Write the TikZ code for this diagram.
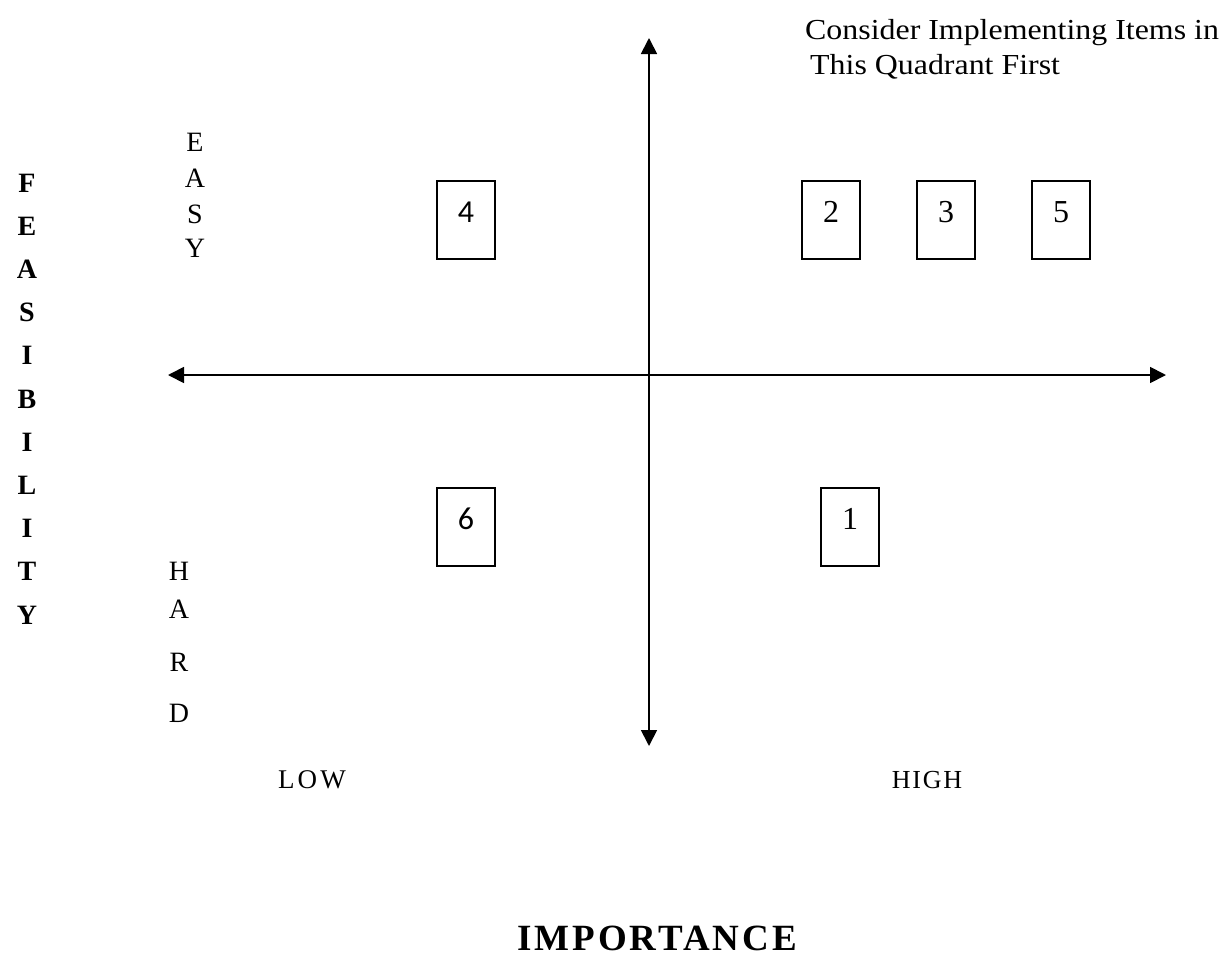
\documentclass[tikz,border=0pt]{standalone}
\usepackage{fontspec}
\setmainfont{Liberation Serif}
\newfontfamily\sansnum{Carlito}
\newfontfamily\notefont{Liberation Serif}[FakeStretch=1.1]
\usetikzlibrary{arrows.meta}
\tikzset{
  axis/.style={line width=1.8pt, {Triangle[length=16pt,width=16pt]}-{Triangle[length=16pt,width=16pt]}},
  itembox/.style={draw, line width=1.6pt, minimum width=58pt, minimum height=78pt, inner sep=0pt,
                  text height=22pt, text depth=18pt, font=\fontsize{32}{36}\selectfont},
  letter/.style={inner sep=0pt, font=\fontsize{28}{32}\selectfont},
  bletter/.style={inner sep=0pt, font=\fontsize{28}{32}\selectfont\bfseries},
  plain/.style={inner sep=0pt, font=\fontsize{29}{35}\selectfont}
}
\begin{document}
\begin{tikzpicture}[x=1pt,y=-1pt]
\useasboundingbox (0,0) rectangle (1224,972);
% axes
\coordinate (vt) at (649,38);
\coordinate (vb) at (649,746);
\coordinate (hl) at (168,375);
\coordinate (hr) at (1166,375);
\draw[axis] (vb) -- (vt);
\draw[axis] (hl) -- (hr);
% boxes
\node[itembox] (b4) at (466,220) {\sansnum 4};
\node[itembox] (b2) at (831,220) {2};
\node[itembox] (b3) at (946,220) {3};
\node[itembox] (b5) at (1061,220) {5};
\node[itembox] (b6) at (466,527) {\sansnum 6};
\node[itembox] (b1) at (850,527) {1};
% top-right note
\node[plain, font=\fontsize{29}{35}\notefont, anchor=north west, align=left] (note) at (805,19)
  {Consider Implementing Items in\\\hspace{5pt}This Quadrant First};
% EASY
\node[letter] (e1) at (195,142) {E};
\node[letter] (e2) at (195,178) {A};
\node[letter] (e3) at (195,214) {S};
\node[letter] (e4) at (195,248) {Y};
% HARD
\node[letter] (h1) at (179,571) {H};
\node[letter] (h2) at (179,609) {A};
\node[letter] (h3) at (179,662) {R};
\node[letter] (h4) at (179,713) {D};
% FEASIBILITY
\foreach \c [count=\i from 0] in {F,E,A,S,I,B,I,L,I,T,Y} {
  \node[bletter] (f\i) at (27,183+43.2*\i) {\c};
}
% LOW / HIGH
\node[plain, font=\fontsize{27}{32}\selectfont\addfontfeature{LetterSpace=12}] (low) at (312,780) {LOW};
\node[plain, font=\fontsize{26}{31}\selectfont\addfontfeature{LetterSpace=7}] (high) at (927,780) {HIGH};
% IMPORTANCE
\node[inner sep=0pt, font=\fontsize{37}{40}\selectfont\bfseries\addfontfeature{LetterSpace=8}] (imp) at (657,938) {IMPORTANCE};
\end{tikzpicture}
\end{document}
